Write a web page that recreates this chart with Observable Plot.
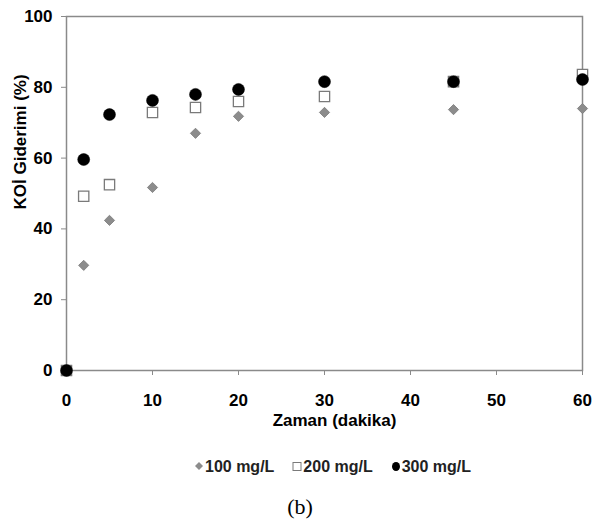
<!DOCTYPE html>
<html><head><meta charset="utf-8">
<script src="https://cdn.jsdelivr.net/npm/d3@7"></script>
<script src="https://cdn.jsdelivr.net/npm/@observablehq/plot@0.6"></script>
<style>
body{margin:0;background:#fff;width:594px;font-family:"Liberation Sans",Arial,sans-serif;}
#legend{height:50px;display:flex;align-items:center;padding-left:194px;box-sizing:border-box;font-weight:bold;font-size:16px;color:#222;padding-top:3px;}
#legend .item{display:flex;align-items:center;margin-right:18px;}
#legend svg{margin-right:1px;}
#cap{font-family:"Liberation Serif","Times New Roman",serif;font-size:22px;text-align:center;width:600px;margin-top:4px;}
</style></head><body>
<div id="chart"></div>
<div id="legend"></div>
<div id="cap">(b)</div>
<script>
const time = [0, 2, 5, 10, 15, 20, 30, 45, 60];
const s100 = [0, 29.7, 42.4, 51.7, 67.0, 71.8, 72.9, 73.7, 74.0];
const s200 = [0, 49.2, 52.5, 72.9, 74.3, 76.0, 77.4, 81.6, 83.6];
const s300 = [0, 59.6, 72.3, 76.3, 78.0, 79.4, 81.6, 81.6, 82.2];
const seriesNames = ["100 mg/L", "200 mg/L", "300 mg/L"];
const xTicks = [0, 10, 20, 30, 40, 50, 60];
const yTicks = [0, 20, 40, 60, 80, 100];
const xLabel = "Zaman (dakika)";
const yLabel = "KOİ Giderimi (%)";

const mk = arr => time.map((t, i) => ({t, v: arr[i]}));
const d100 = mk(s100), d200 = mk(s200), d300 = mk(s300);

const chart = Plot.plot({
  width: 594, height: 440,
  marginLeft: 66, marginRight: 12, marginTop: 16, marginBottom: 70,
  style: {fontFamily: "'Liberation Sans', Arial, sans-serif", background: "#fff"},
  x: {domain: [0, 60]},
  y: {domain: [0, 100]},
  marks: [
    Plot.frame({stroke: "#8a8a8a", strokeWidth: 1.5}),
    Plot.axisX(xTicks, {tickSize: 5, tickPadding: 18, stroke: "#8a8a8a", fill: "#000", fontSize: 17, fontWeight: "bold", label: null}),
    Plot.axisY(yTicks, {tickSize: 5, tickPadding: 9, stroke: "#8a8a8a", fill: "#000", fontSize: 17, fontWeight: "bold", label: null}),
    Plot.text([xLabel], {frameAnchor: "bottom", dy: 55, dx: 10, fontSize: 17, fontWeight: "bold", fill: "#000"}),
    Plot.text([yLabel], {frameAnchor: "left", rotate: -90, dx: -46, dy: 16, fontSize: 17, fontWeight: "bold", fill: "#000"}),
    Plot.dot(d100, {x: "t", y: "v", symbol: "diamond2", r: 4.6, fill: "#8c8c8c", stroke: "#7a7a7a", strokeWidth: 0.8}),
    Plot.dot(d200, {x: "t", y: "v", symbol: "square", r: 5.8, fill: "#fff", stroke: "#7a7a7a", strokeWidth: 1.3}),
    Plot.dot(d300, {x: "t", y: "v", symbol: "circle", r: 6, fill: "#000", stroke: "#000", strokeWidth: 0.5})
  ]
});
document.getElementById("chart").appendChild(chart);

const legend = d3.select("#legend");
const syms = [
  {name: seriesNames[0], draw: g => g.append("path").attr("d", "M5,1 L9,5 L5,9 L1,5 Z").attr("fill", "#8c8c8c")},
  {name: seriesNames[1], draw: g => g.append("rect").attr("x", 1).attr("y", 1.5).attr("width", 8).attr("height", 8).attr("fill", "#fff").attr("stroke", "#7a7a7a").attr("stroke-width", 1)},
  {name: seriesNames[2], draw: g => g.append("ellipse").attr("cx", 5).attr("cy", 5.5).attr("rx", 4).attr("ry", 4.5).attr("fill", "#000")}
];
syms.forEach(s => {
  const it = legend.append("div").attr("class", "item");
  const sv = it.append("svg").attr("width", 10).attr("height", 11);
  s.draw(sv);
  it.append("span").text(s.name);
});
</script>
</body></html>
